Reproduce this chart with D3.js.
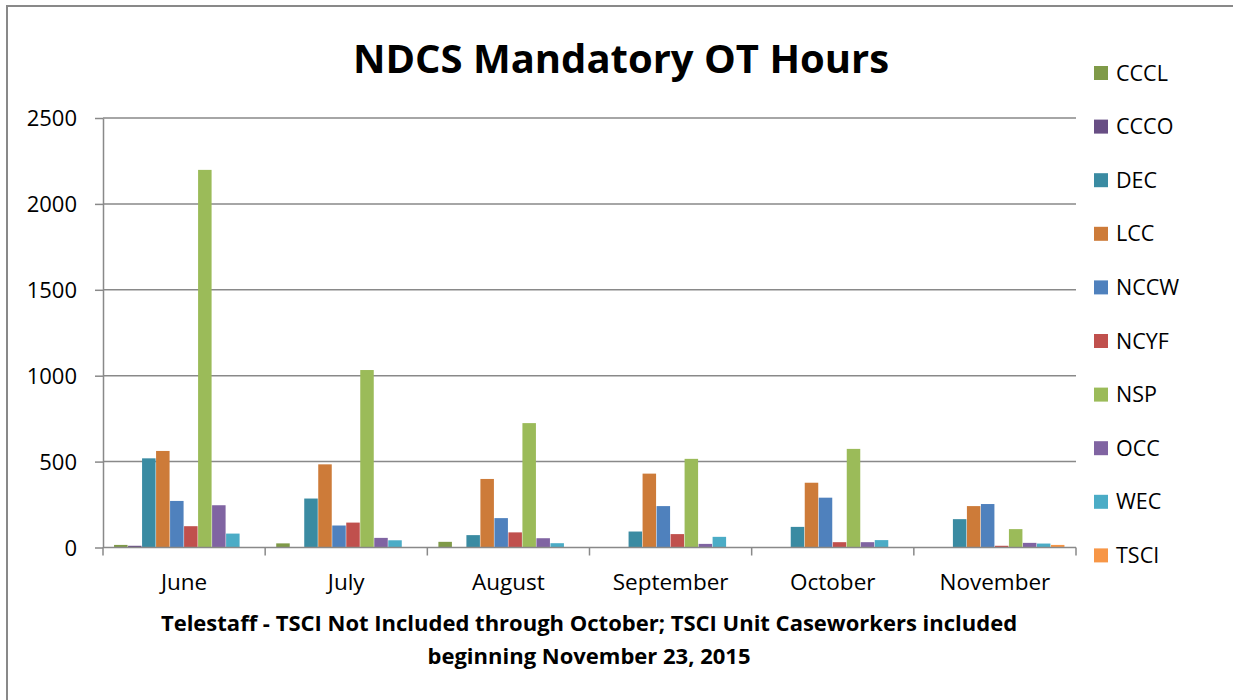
<!DOCTYPE html>
<html lang="en">
<head>
    <meta charset="UTF-8">
    <title>NDCS Mandatory OT Hours</title>
    <script src="https://d3js.org/d3.v7.min.js"></script>
    <style>
        body{
            margin: 0;
            background-color: white;
        }
        #canvas{
            display: block;
        }
        text{
            font-family: "Open Sans", sans-serif;
            fill: black;
        }
        .grid line{
            stroke: #898989;
            stroke-width: 1.5px;
        }
    </style>
</head>
<body>
<svg id="canvas" width="1233" height="700"></svg>

<script>
    // chart data
    let months = ["June", "July", "August", "September", "October", "November"];
    let series = ["CCCL", "CCCO", "DEC", "LCC", "NCCW", "NCYF", "NSP", "OCC", "WEC", "TSCI"];
    let colors = ["#7F9A48", "#684E84", "#3A8BA2", "#CD7B39", "#4F81BD", "#C0504D", "#9BBB59", "#8064A2", "#4BACC6", "#F79646"];
    let CCCL = [15, 24, 33, 0, 0, 0];
    let CCCO = [10, 0, 0, 0, 0, 0];
    let DEC  = [519, 285, 72, 93, 120, 165];
    let LCC  = [562, 484, 399, 430, 377, 241];
    let NCCW = [271, 128, 171, 241, 290, 253];
    let NCYF = [124, 145, 88, 78, 31, 10];
    let NSP  = [2198, 1033, 724, 516, 574, 107];
    let OCC  = [246, 56, 54, 21, 31, 27];
    let WEC  = [81, 42, 25, 62, 43, 23];
    let TSCI = [0, 0, 0, 0, 0, 15];
    let yTicks = [0, 500, 1000, 1500, 2000, 2500];

    let values = [CCCL, CCCO, DEC, LCC, NCCW, NCYF, NSP, OCC, WEC, TSCI];

    let svg = d3.select('#canvas');

    // outer chart frame (right and bottom edges fall outside the picture)
    svg.append('rect')
        .attr('x', 7).attr('y', 6)
        .attr('width', 1240).attr('height', 710)
        .attr('fill', 'white')
        .attr('stroke', '#898989')
        .attr('stroke-width', 2);

    let plotLeft = 103, plotRight = 1076, plotTop = 118, plotBottom = 547.5;

    let x = d3.scaleBand().domain(months).range([plotLeft, plotRight]).paddingInner(0).paddingOuter(0);
    let xInner = d3.scaleBand().domain(series).range([0, x.bandwidth()]).paddingInner(0).paddingOuter(0.79);
    let y = d3.scaleLinear().domain([0, 2500]).range([plotBottom, plotTop]);
    let color = d3.scaleOrdinal().domain(series).range(colors);

    // gridlines
    svg.append('g')
        .attr('class', 'grid')
        .selectAll('line')
        .data(yTicks.slice(1))
        .join('line')
        .attr('x1', plotLeft).attr('x2', plotRight)
        .attr('y1', d => y(d)).attr('y2', d => y(d));

    // bars
    let groups = svg.append('g')
        .selectAll('g')
        .data(series)
        .join('g')
        .attr('fill', d => color(d));

    groups.selectAll('rect')
        .data((s, i) => months.map((m, j) => ({month: m, name: s, value: values[i][j]})))
        .join('rect')
        .attr('x', d => x(d.month) + xInner(d.name))
        .attr('width', xInner.bandwidth() - 0.5)
        .attr('y', d => y(d.value))
        .attr('height', d => y(0) - y(d.value));

    // y axis
    let yAxis = d3.axisLeft(y).tickValues(yTicks).tickFormat(d3.format('d'))
        .tickSize(8).tickSizeOuter(0).tickPadding(18);
    let gy = svg.append('g').attr('transform', 'translate(' + plotLeft + ',0)').call(yAxis);
    gy.select('.domain').attr('stroke', '#898989').attr('stroke-width', 1.5);
    gy.selectAll('.tick line').attr('stroke', '#898989').attr('stroke-width', 1.5);
    gy.selectAll('.tick text').style('font-size', '22px').attr('dy', '0.35em')
        .attr('font-family', null);

    // x axis, ticks between the month bands
    let gx = svg.append('g').attr('transform', 'translate(0,' + plotBottom + ')');
    gx.append('line')
        .attr('x1', plotLeft).attr('x2', plotRight)
        .attr('stroke', '#898989').attr('stroke-width', 1.5);
    gx.selectAll('.sep')
        .data(months.concat(['end']))
        .join('line')
        .attr('class', 'sep')
        .attr('x1', (d, i) => i < months.length ? x(d) : plotRight)
        .attr('x2', (d, i) => i < months.length ? x(d) : plotRight)
        .attr('y1', 0).attr('y2', 8)
        .attr('stroke', '#898989').attr('stroke-width', 1.5);
    gx.selectAll('.mlabel')
        .data(months)
        .join('text')
        .attr('class', 'mlabel')
        .attr('x', d => x(d) + x.bandwidth() / 2)
        .attr('y', 42)
        .attr('text-anchor', 'middle')
        .style('font-size', '22.5px')
        .text(d => d);

    // title
    svg.append('text')
        .attr('x', 621).attr('y', 73)
        .attr('text-anchor', 'middle')
        .style('font-size', '40px')
        .style('font-weight', 'bold')
        .text('NDCS Mandatory OT Hours');

    // axis caption
    svg.append('text')
        .attr('x', 589).attr('y', 631)
        .attr('text-anchor', 'middle')
        .style('font-size', '22px')
        .style('font-weight', 'bold')
        .text('Telestaff - TSCI Not Included through October; TSCI Unit Caseworkers included');
    svg.append('text')
        .attr('x', 589).attr('y', 664)
        .attr('text-anchor', 'middle')
        .style('font-size', '22px')
        .style('font-weight', 'bold')
        .text('beginning November 23, 2015');

    // legend
    let legend = svg.append('g')
        .selectAll('g')
        .data(series)
        .join('g')
        .attr('transform', (d, i) => 'translate(1094,' + (73 + i * 53.6) + ')');
    legend.append('rect')
        .attr('x', 0).attr('y', -7)
        .attr('width', 14).attr('height', 14)
        .attr('fill', d => color(d));
    legend.append('text')
        .attr('x', 22).attr('y', 0)
        .attr('dy', '0.35em')
        .style('font-size', '21.5px')
        .text(d => d);
</script>
</body>
</html>
